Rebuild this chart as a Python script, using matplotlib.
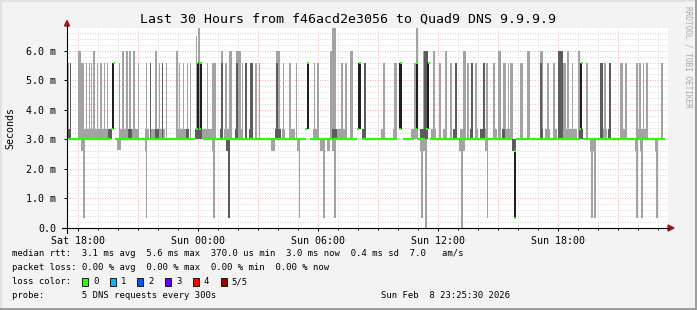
import numpy as np
import matplotlib
matplotlib.use("Agg")
import matplotlib.pyplot as plt
from matplotlib.patches import Rectangle, Polygon
from matplotlib.lines import Line2D

# times are minutes after Sat 18:00, values are ms
title = "Last 30 Hours from f46acd2e3056 to Quad9 DNS 9.9.9.9"
x_tick_hours = [0, 6, 12, 18, 24]
x_tick_labels = ["Sat 18:00", "Sun 00:00", "Sun 06:00", "Sun 12:00", "Sun 18:00"]
y_tick_values = [0, 1, 2, 3, 4, 5, 6]
y_tick_labels = ["0.0", "1.0 m", "2.0 m", "3.0 m", "4.0 m", "5.0 m", "6.0 m"]

t_first, t_last = -33, 1761
median_level = 3.0
band_lo, band_hi = 3.0, 3.35

band_light = [(0, 87), (123, 153), (162, 183), (201, 213), (216, 231), (243, 261), (297, 324),
              (372, 396), (396, 408), (438, 456), (480, 495), (531, 537), (612, 621), (633, 651),
              (705, 720), (777, 807), (816, 825), (909, 918), (945, 954), (999, 1008), (1059, 1074),
              (1095, 1107), (1146, 1161), (1191, 1200), (1218, 1224), (1245, 1257), (1284, 1305),
              (1326, 1335), (1401, 1416), (1425, 1437), (1455, 1497), (1575, 1587), (1626, 1647),
              (1674, 1710), (1749, 1755)]
band_dark = [(-33, -24), (90, 102), (150, 162), (231, 243), (324, 333), (351, 372), (426, 435),
             (471, 480), (501, 507), (513, 525), (591, 609), (762, 777), (852, 861), (1026, 1050),
             (1125, 1134), (1176, 1185), (1206, 1215), (1272, 1281), (1386, 1395), (1440, 1455),
             (1503, 1515), (1566, 1575), (1590, 1599)]

up_light = [(-33, -28.5, 5.6), (0, 9, 6.0), (9, 13.5, 5.6), (15, 18, 5.6), (22.5, 25.5, 5.6),
            (31.5, 34.5, 5.6), (39, 42, 5.6), (45, 51, 6.0), (55.5, 58.5, 5.6), (66, 70.5, 5.6),
            (76.5, 81, 5.6), (85.5, 88.5, 5.6), (121.5, 126, 5.6), (132, 138, 6.0), (144, 150, 6.0),
            (153, 159, 6.0), (165, 171, 6.0), (178.5, 181.5, 5.6), (202.5, 205.5, 5.6), (231, 237, 6.0),
            (241.5, 244.5, 5.6), (262.5, 265.5, 5.6), (294, 300, 6.0), (303, 306, 5.6),
            (313.5, 316.5, 5.6), (325.5, 328.5, 5.6), (336, 339, 5.6), (354, 357, 6.5),
            (358.5, 364.5, 6.8), (385.5, 388.5, 5.6), (402, 411, 5.6), (411, 414, 5.6), (429, 435, 6.0),
            (441, 447, 5.6), (453, 462, 6.0), (474, 489, 6.0), (492, 495, 5.6), (531, 537, 5.6),
            (543, 546, 5.6), (594, 606, 6.0), (615, 618, 5.6), (633, 639, 5.6), (654, 657, 5.6),
            (708, 711, 5.6), (717, 723, 5.6), (756, 762, 6.0), (762, 774, 6.8), (789, 795, 5.6),
            (801, 807, 5.6), (816, 825, 6.0), (915, 921, 5.6), (948, 957, 5.6), (1008, 1014, 5.6),
            (1014, 1020, 6.8), (1035, 1038, 6.0), (1065, 1071, 6.0), (1083, 1089, 5.6),
            (1101, 1107, 6.0), (1116, 1122, 5.6), (1155, 1164, 6.0), (1167, 1173, 5.6),
            (1191, 1197, 5.6), (1224, 1230, 5.6), (1245, 1251, 5.6), (1260, 1269, 6.0),
            (1275, 1284, 5.6), (1290, 1293, 5.6), (1296, 1305, 5.6), (1326, 1335, 5.6),
            (1347, 1356, 6.0), (1386, 1395, 6.0), (1407, 1413, 5.6), (1425, 1431, 5.6),
            (1455, 1464, 5.6), (1467, 1473, 6.0), (1482, 1485, 5.6), (1500, 1506, 6.0),
            (1524, 1530, 5.6), (1578, 1584, 5.6), (1626, 1635, 5.6), (1641, 1647, 5.6),
            (1674, 1680, 5.6), (1683, 1689, 5.6), (1695, 1698, 5.6), (1704, 1710, 5.6),
            (1749, 1755, 5.6)]
up_dark = [(-25.5, -22.5, 5.6), (214.5, 217.5, 5.6), (250.5, 253.5, 5.6), (429, 433.5, 5.6),
           (474, 480, 5.6), (501, 507, 5.6), (516, 525, 5.6), (594, 598.5, 5.6), (858, 864, 5.6),
           (1038, 1050, 6.0), (1131, 1137, 5.6), (1179, 1185, 5.6), (1215, 1221, 5.6),
           (1386, 1392, 5.6), (1440, 1455, 6.0), (1566, 1575, 5.6), (1593, 1599, 5.6)]
up_black = [(102, 108, 5.6), (358, 363, 5.6), (366, 371, 5.6), (686, 693, 5.6), (840, 849, 5.6),
            (963, 972, 5.6), (1013, 1020, 5.6), (1047, 1054, 5.6), (1507, 1513, 5.6)]

down_light = [(9, 21, 2.6), (15, 21, 0.35), (117, 129, 2.65), (201, 207, 2.6), (204, 207, 0.35),
              (402, 411, 2.6), (405, 411, 0.35), (579, 591, 2.6), (657, 666, 2.6), (663, 666, 0.35),
              (726, 741, 2.6), (735, 741, 0.35), (747, 756, 2.6), (762, 774, 2.6), (768, 774, 0.35),
              (1026, 1047, 2.6), (1029, 1035, 0.35), (1041, 1047, 0.0), (1143, 1161, 2.6),
              (1149, 1155, 0.0), (1221, 1230, 2.6), (1227, 1230, 0.35), (1536, 1554, 2.6),
              (1539, 1545, 0.35), (1548, 1554, 0.35), (1671, 1680, 2.6), (1674, 1680, 0.35),
              (1686, 1695, 2.6), (1689, 1695, 0.35), (1731, 1740, 2.6), (1734, 1740, 0.35)]
down_dark = [(-33, -30, 0.35), (444, 456, 2.6), (450, 456, 0.35), (1302, 1314, 2.6)]
down_black = [(1309, 1313, 0.35)]

median_gaps = [(99, 111), (354, 375), (684, 696), (837, 852), (957, 975), (1008, 1017),
               (1041, 1056), (1302, 1314), (1506, 1515)]
dot_t = [102, 108, 357, 366, 357, 369, 684, 690, 840, 846, 966, 969, 1014, 1017, 1047, 1053,
         1311, 1311, 1506, 1512]
dot_v = [3.35, 5.6, 3.35, 3.35, 5.6, 5.6, 3.35, 5.6, 3.35, 5.6, 3.35, 5.6, 3.35, 5.6, 3.35, 5.6,
         2.6, 0.35, 3.35, 5.6]

legend_rtt = "median rtt:  3.1 ms avg  5.6 ms max  370.0 us min  3.0 ms now  0.4 ms sd  7.0   am/s"
legend_loss = "packet loss: 0.00 % avg  0.00 % max  0.00 % min  0.00 % now"
loss_labels = ["0", "1", "2", "3", "4", "5/5"]
loss_colors = ["#26ff00", "#00b8ff", "#0059ff", "#5e00ff", "#ff0000", "#a00000"]
probe_text = "probe:       5 DNS requests every 300s"
stamp_text = "Sun Feb  8 23:25:30 2026"

LIGHT, DARK, BLACK = "#a3a3a3", "#5c5c5c", "#1e1e1e"
MONO = "DejaVu Sans Mono"
W, H = 697, 310


def fx(px):
    return px / W


def fy(py):
    return 1 - py / H


fig = plt.figure(figsize=(W / 100, H / 100), dpi=100, facecolor="#f3f3f3")
ax = fig.add_axes([fx(67), fy(228), 601 / W, 200 / H])
ax.set_facecolor("white")
ax.set_xlim(-33 / 60, 29.5)
ax.set_ylim(0, 6.77)
for s in ax.spines.values():
    s.set_visible(False)

# grid: grey every hour / 0.2 ms, red every 3 hours / 1 ms
dots = (0, (1, 1.5))
for h in range(0, 30):
    major = h % 3 == 0
    ax.axvline(h, color="#f0b4b4" if major else "#d8d8d8", lw=0.72, ls=dots, zorder=0)
for k in range(1, 34):
    v = k * 0.2
    major = k % 5 == 0
    ax.axhline(v, color="#f0b4b4" if major else "#d8d8d8", lw=0.72, ls=dots, zorder=0)


def bars(spans, lo, hi, color, z):
    for sp in spans:
        a, b = sp[0], sp[1]
        if hi is None:
            bot, top = lo, sp[2]
        elif lo is None:
            bot, top = sp[2], hi
        else:
            bot, top = lo, hi
        ax.bar(a / 60, top - bot, width=(b - a) / 60, bottom=bot, align="edge",
               color=color, linewidth=0, zorder=z)


bars(band_light, band_lo, band_hi, LIGHT, 2)
bars(up_light, band_lo, None, LIGHT, 2)
bars(down_light, None, median_level, LIGHT, 2)
bars(band_dark, band_lo, band_hi, DARK, 3)
bars(up_dark, band_lo, None, DARK, 3)
bars(down_dark, None, median_level, DARK, 3)
bars(up_black, band_hi, None, BLACK, 4)
bars(down_black, None, 2.6, BLACK, 4)

# median line with gaps
edges = [t_first]
for a, b in median_gaps:
    edges += [a, b]
edges.append(t_last)
for i in range(0, len(edges), 2):
    ax.plot([edges[i] / 60, edges[i + 1] / 60], [median_level, median_level],
            color="#26ff00", lw=1.6, solid_capstyle="butt", zorder=5)
ax.scatter(np.array(dot_t) / 60, dot_v, marker="s", s=2.5, color="#26ff00", linewidths=0, zorder=6)

# ticks
ax.set_xticks(x_tick_hours)
ax.set_xticklabels(x_tick_labels, family=MONO, fontsize=7.2)
ax.set_xticks(range(0, 30), minor=True)
ax.set_yticks(y_tick_values)
ax.set_yticklabels(y_tick_labels, family=MONO, fontsize=7.2)
ax.tick_params(axis="x", which="major", length=2.5, width=0.7, pad=3.5, direction="out")
ax.tick_params(axis="x", which="minor", length=1.2, width=0.7, direction="out")
ax.tick_params(axis="y", which="major", length=2, width=0.7, pad=6)

# axes lines and arrows
fig.add_artist(Line2D([fx(62), fx(669)], [fy(228), fy(228)], color="black", lw=0.8))
fig.add_artist(Line2D([fx(67), fx(67)], [fy(233), fy(25)], color="black", lw=0.8))
fig.add_artist(Polygon([(fx(668), fy(225)), (fx(674), fy(228)), (fx(668), fy(231))],
                       closed=True, color="#a01818", transform=fig.transFigure))
fig.add_artist(Polygon([(fx(64.5), fy(26)), (fx(67), fy(20.5)), (fx(69.5), fy(26))],
                       closed=True, color="#a01818", transform=fig.transFigure))

fig.text(fx(348), fy(19), title, family=MONO, fontsize=9.5, ha="center", va="center")
fig.text(fx(10), fy(128), "Seconds", family=MONO, fontsize=7.2, rotation=90, ha="center", va="center")
fig.text(fx(688), fy(6), "RRDTOOL / TOBI OETIKER", family=MONO, fontsize=5.6, rotation=270,
         ha="center", va="top", color="#a8a8a8")

# legend
fig.text(fx(12), fy(254), legend_rtt, family=MONO, fontsize=6.4, va="center")
fig.text(fx(12), fy(268), legend_loss, family=MONO, fontsize=6.4, va="center")
fig.text(fx(12), fy(282), "loss color:", family=MONO, fontsize=6.4, va="center")
for i, (lab, col) in enumerate(zip(loss_labels, loss_colors)):
    bx = 82 + i * 27.7
    fig.add_artist(Rectangle((fx(bx), fy(286)), 6 / W, 8 / H, facecolor=col, edgecolor="black",
                             lw=0.6, transform=fig.transFigure))
    fig.text(fx(bx + 11), fy(282), lab, family=MONO, fontsize=6.4, va="center")
fig.text(fx(12), fy(296), probe_text, family=MONO, fontsize=6.4, va="center")
fig.text(fx(510), fy(296), stamp_text, family=MONO, fontsize=6.4, va="center", ha="right")

# frame
fig.add_artist(Line2D([0, 1], [fy(0.5), fy(0.5)], color="#e2e2e2", lw=1.4))
fig.add_artist(Line2D([fx(0.5), fx(0.5)], [0, 1], color="#e2e2e2", lw=1.4))
fig.add_artist(Line2D([0, 1], [fy(309), fy(309)], color="#9c9c9c", lw=1.4))
fig.add_artist(Line2D([fx(696), fx(696)], [0, 1], color="#9c9c9c", lw=1.4))

fig.savefig("out.png", dpi=100, facecolor=fig.get_facecolor())
